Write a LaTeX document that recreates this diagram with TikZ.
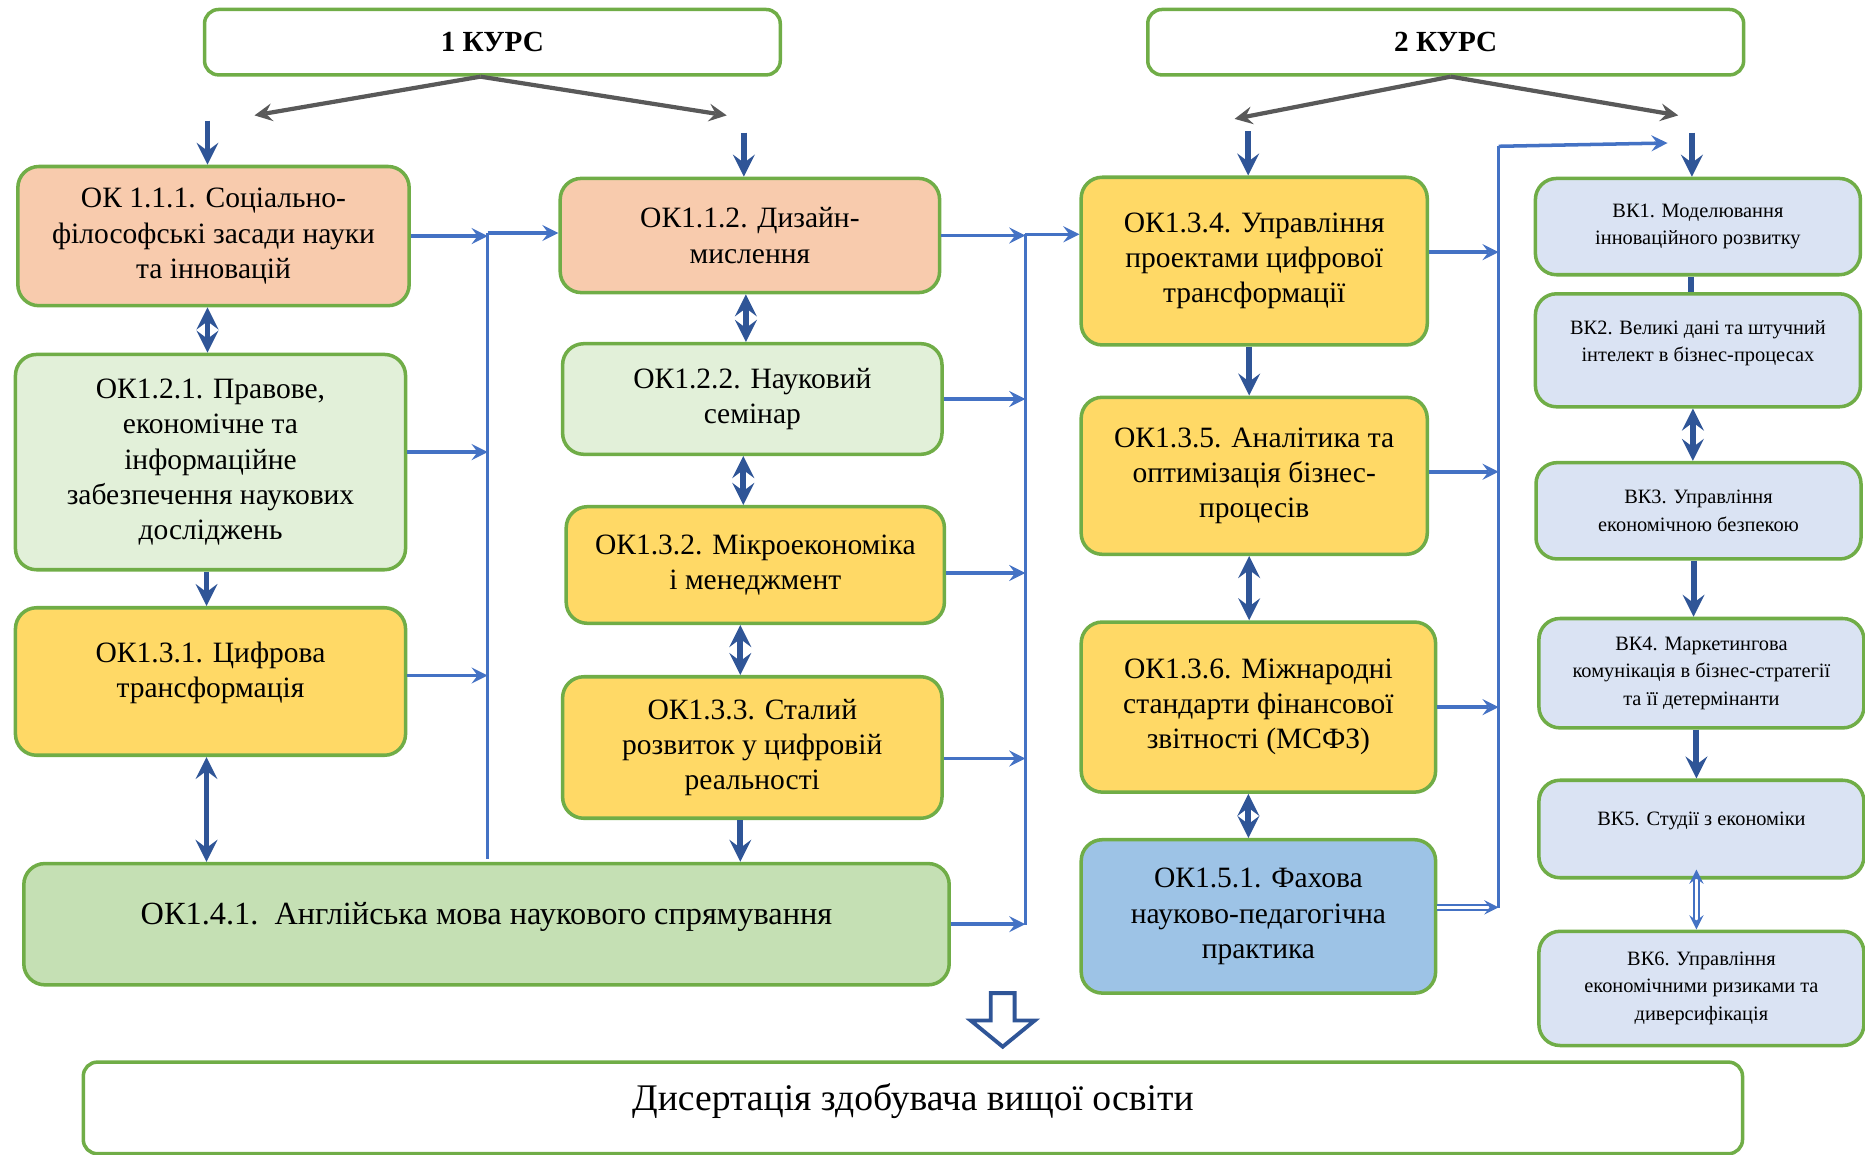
\documentclass[tikz,border=0pt]{standalone}
\usepackage{fontspec}
\setmainfont{Liberation Serif}
\definecolor{boxgreen}{HTML}{70AD47}
\definecolor{peach}{HTML}{F8CBAD}
\definecolor{palegreen}{HTML}{E2F0D9}
\definecolor{gold}{HTML}{FFD966}
\definecolor{midgreen}{HTML}{C5E0B4}
\definecolor{skyblue}{HTML}{9DC3E6}
\definecolor{paleblue}{HTML}{DAE3F3}
\definecolor{darkblue}{HTML}{2F5597}
\definecolor{linkblue}{HTML}{4472C4}
\definecolor{arrowgray}{HTML}{595959}
\tikzset{
  box/.style={draw=boxgreen, line width=1pt, rounded corners=6pt, align=center, inner sep=2pt,
    font=\fontsize{8.4}{10}\selectfont},
  vkbox/.style={box, fill=paleblue, minimum width=3.25cm, font=\fontsize{5.8}{7.8}\selectfont},
  head/.style={draw=boxgreen, line width=1pt, rounded corners=4pt, fill=white,
    minimum height=0.654cm, font=\fontsize{8.3}{10}\selectfont\bfseries},
  vlink/.style={darkblue, line width=1.7pt},
  hlink/.style={linkblue, line width=1pt, ->},
  bus/.style={linkblue, line width=0.8pt},
  hollow/.style={linkblue, line width=0.5pt, double=white, double distance=0.9pt},
  fork/.style={arrowgray, line width=1.2pt, ->}
}
\begin{document}
\begin{tikzpicture}[>=stealth]
\useasboundingbox (0,0) rectangle (18.65,-11.55);
% headers
\node[head, minimum width=5.757cm] (k1) at (4.924,-0.422) {1 КУРС};
\node[head, minimum width=5.959cm] (k2) at (14.457,-0.422) {2 КУРС};
\coordinate (k1a) at ([xshift=-0.12cm]k1.south);
\coordinate (k1l) at (2.545,-1.154);
\coordinate (k1r) at (7.267,-1.154);
\coordinate (k2a) at ([xshift=0.05cm]k2.south);
\coordinate (k2l) at (12.346,-1.189);
\coordinate (k2r) at (16.782,-1.154);
\draw[fork] (k1a) -- (k1l);
\draw[fork] (k1a) -- (k1r);
\draw[fork] (k2a) -- (k2l);
\draw[fork] (k2a) -- (k2r);

% column 1
\node[box, fill=peach, minimum width=3.913cm, minimum height=1.392cm] (ok111) at (2.135,-2.361)
  {ОК 1.1.1. Соціально-\\філософські засади науки\\та інновацій};
\node[box, fill=palegreen, minimum width=3.901cm, minimum height=2.153cm] (ok121) at (2.105,-4.621)
  {ОК1.2.1. Правове,\\економічне та\\інформаційне\\забезпечення наукових\\досліджень};
\node[box, fill=gold, minimum width=3.901cm, minimum height=1.475cm] (ok131) at (2.105,-6.815)
  {ОК1.3.1. Цифрова\\трансформація\\[-0.11cm]};
\node[box, fill=midgreen, minimum width=9.254cm, minimum height=1.213cm,
  font=\fontsize{9.2}{10}\selectfont] (ok141) at (4.865,-9.242)
  {ОК1.4.1.\ \ Англійська мова наукового спрямування\\[-0.14cm]};

% column 2
\node[box, fill=peach, minimum width=3.794cm, minimum height=1.142cm] (ok112) at (7.499,-2.355)
  {ОК1.1.2. Дизайн-\\мислення};
\node[box, fill=palegreen, minimum width=3.794cm, minimum height=1.106cm] (ok122) at (7.523,-3.990)
  {ОК1.2.2. Науковий\\семінар};
\node[box, fill=gold, minimum width=3.782cm, minimum height=1.166cm] (ok132) at (7.553,-5.650)
  {ОК1.3.2. Мікроекономіка\\і менеджмент};
\node[box, fill=gold, minimum width=3.794cm, minimum height=1.415cm] (ok133) at (7.523,-7.475)
  {ОК1.3.3. Сталий\\розвиток у цифровій\\реальності};

% column 3
\node[box, fill=gold, minimum width=3.461cm, minimum height=1.677cm] (ok134) at (12.542,-2.611)
  {ОК1.3.4. Управління\\проектами цифрової\\трансформації};
\node[box, fill=gold, minimum width=3.461cm, minimum height=1.570cm] (ok135) at (12.542,-4.758)
  {ОК1.3.5. Аналітика та\\оптимізація бізнес-\\процесів};
\node[box, fill=gold, minimum width=3.544cm, minimum height=1.701cm] (ok136) at (12.584,-7.071)
  {ОК1.3.6. Міжнародні\\стандарти фінансової\\звітності (МСФЗ)};
\node[box, fill=skyblue, minimum width=3.544cm, minimum height=1.534cm] (ok151) at (12.584,-9.164)
  {ОК1.5.1. Фахова\\науково-педагогічна\\практика};

% column 4
\node[vkbox, minimum height=0.963cm] (vk1) at (16.979,-2.266)
  {ВК1. Моделювання\\інноваційного розвитку};
\node[vkbox, minimum height=1.130cm] (vk2) at (16.979,-3.503)
  {ВК2. Великі дані та штучний\\інтелект в бізнес-процесах\\[-0.085cm]};
\node[vkbox, minimum height=0.963cm] (vk3) at (16.985,-5.108)
  {ВК3. Управління\\економічною безпекою};
\node[vkbox, minimum height=1.094cm] (vk4) at (17.014,-6.732)
  {ВК4. Маркетингова\\комунікація в бізнес-стратегії\\та її детермінанти};
\node[vkbox, minimum height=0.975cm] (vk5) at (17.014,-8.290)
  {ВК5. Студії з економіки\\[-0.06cm]};
\node[vkbox, minimum height=1.142cm] (vk6) at (17.014,-9.884)
  {ВК6. Управління\\економічними ризиками та\\диверсифікація};

% result
\node[box, fill=white, rounded corners=4pt, minimum width=16.592cm, minimum height=0.916cm,
  font=\fontsize{10.7}{12}\selectfont] (dis) at (9.129,-11.079)
  {Дисертація здобувача вищої освіти\\[-0.2cm]};
\draw[darkblue, line width=1.1pt, fill=white, line join=miter]
  (9.908,-9.931) -- (10.146,-9.931) -- (10.146,-10.205) -- (10.347,-10.205)
  -- (10.027,-10.467) -- (9.707,-10.205) -- (9.908,-10.205) -- cycle;

% arrows from above
\foreach \n in {ok111,ok112,ok134,vk1}
  \draw[vlink, ->] ([xshift=-0.06cm, yshift=0.44cm]\n.north) -- ([xshift=-0.06cm]\n.north);

% vertical links
\draw[vlink, <->] ([xshift=-0.06cm]ok111.south) -- ([xshift=-0.06cm]ok111.south |- ok121.north);
\draw[vlink, ->] ([xshift=-0.04cm]ok121.south) -- ([xshift=-0.04cm]ok121.south |- ok131.north);
\draw[vlink, <->] ([xshift=-0.04cm]ok131.south) -- ([xshift=-0.04cm]ok131.south |- ok141.north);
\draw[vlink, <->] ([xshift=-0.04cm]ok112.south) -- ([xshift=-0.04cm]ok112.south |- ok122.north);
\draw[vlink, <->] ([xshift=-0.09cm]ok122.south) -- ([xshift=-0.09cm]ok122.south |- ok132.north);
\draw[vlink, <->] ([xshift=-0.15cm]ok132.south) -- ([xshift=-0.15cm]ok132.south |- ok133.north);
\draw[vlink, ->] ([xshift=-0.12cm]ok133.south) -- ([xshift=-0.12cm]ok133.south |- ok141.north);
\draw[vlink, ->] ([xshift=-0.05cm]ok134.south) -- ([xshift=-0.05cm]ok134.south |- ok135.north);
\draw[vlink, <->] ([xshift=-0.05cm]ok135.south) -- ([xshift=-0.05cm]ok135.south |- ok136.north);
\draw[vlink, <->] ([xshift=-0.1cm]ok136.south) -- ([xshift=-0.1cm]ok136.south |- ok151.north);
\draw[vlink] ([xshift=-0.07cm]vk1.south) -- ([xshift=-0.07cm]vk1.south |- vk2.north);
\draw[vlink, <->] ([xshift=-0.05cm]vk2.south) -- ([xshift=-0.05cm]vk2.south |- vk3.north);
\draw[vlink, ->] ([xshift=-0.05cm]vk3.south) -- ([xshift=-0.05cm]vk3.south |- vk4.north);
\draw[vlink, ->] ([xshift=-0.05cm]vk4.south) -- ([xshift=-0.05cm]vk4.south |- vk5.north);
\draw[hollow, <->] ([xshift=-0.05cm, yshift=0.1cm]vk5.south) -- ([xshift=-0.05cm]vk5.south |- vk6.north);

% collecting lines
\coordinate (b1t) at (4.877,-2.33);
\coordinate (b1b) at (4.877,-8.59);
\coordinate (b2t) at (10.253,-2.343);
\coordinate (b2b) at (10.253,-9.25);
\coordinate (b3t) at (14.986,-1.463);
\coordinate (b3b) at (14.986,-9.08);
\coordinate (v1in) at (16.675,-1.43);
\draw[bus] (b1t) -- (b1b);
\draw[bus] (b2t) -- (b2b);
\draw[bus] (b3t) -- (b3b);

\draw[hlink] (ok111.east) -- (ok111.east -| b1t);
\draw[hlink] ([yshift=0.1cm]ok121.east) -- ([yshift=0.1cm]ok121.east -| b1t);
\draw[hlink] ([yshift=0.06cm]ok131.east) -- ([yshift=0.06cm]ok131.east -| b1t);
\draw[hlink] (b1t) -- (b1t -| ok112.west);

\draw[hlink] (ok112.east) -- (ok112.east -| b2t);
\draw[hlink] (ok122.east) -- (ok122.east -| b2t);
\draw[hlink] ([yshift=-0.08cm]ok132.east) -- ([yshift=-0.08cm]ok132.east -| b2t);
\draw[hlink] ([yshift=-0.11cm]ok133.east) -- ([yshift=-0.11cm]ok133.east -| b2t);
\draw[hlink] (ok141.east) -- (ok141.east -| b2t);
\draw[hlink] (b2t) -- (b2t -| ok134.west);

\draw[hlink] ([yshift=0.09cm]ok134.east) -- ([yshift=0.09cm]ok134.east -| b3t);
\draw[hlink] ([yshift=0.04cm]ok135.east) -- ([yshift=0.04cm]ok135.east -| b3t);
\draw[hlink] (ok136.east) -- (ok136.east -| b3t);
\draw[hollow, ->] ([yshift=0.09cm]ok151.east) -- ([yshift=0.09cm]ok151.east -| b3t);
\draw[hlink] (b3t) -- (v1in);
\end{tikzpicture}
\end{document}
